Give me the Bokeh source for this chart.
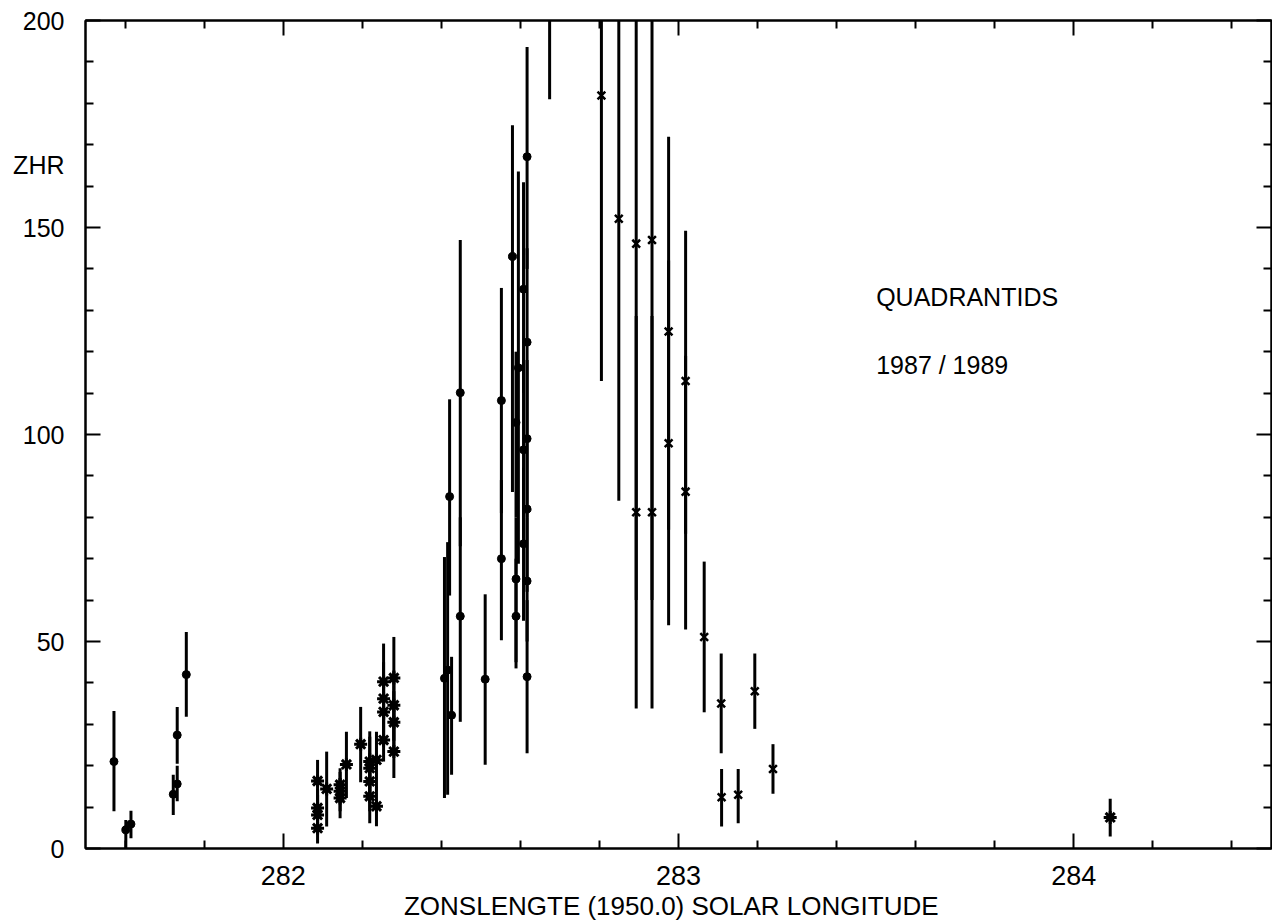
from bokeh.plotting import figure
from bokeh.models import Range1d, LinearAxis, FixedTicker, Label, ColumnDataSource
from bokeh.embed import file_html
from bokeh.resources import INLINE

FONT = "Liberation Sans"

# ---- data: solar longitude (1950.0), ZHR, lower / upper error ----
# filled dots
dot_x  = [281.572, 281.602, 281.615, 281.722, 281.732, 281.732, 281.755,
          282.408, 282.416, 282.421, 282.426, 282.448, 282.448, 282.511,
          282.552, 282.552, 282.580, 282.589, 282.589, 282.589, 282.595,
          282.608, 282.608, 282.608, 282.617, 282.617, 282.617, 282.617,
          282.617, 282.617, 282.674]
dot_y  = [21.0, 4.5, 5.9, 13.1, 27.4, 15.6, 42.0,
          41.1, 43.1, 85.0, 32.2, 110.1, 56.1, 40.9,
          108.2, 70.0, 143.0, 102.9, 65.1, 56.1, 116.1,
          135.1, 96.3, 73.6, 167.1, 122.3, 99.0, 82.0,
          64.6, 41.5, 215.0]
dot_lo = [9.0, 0.0, 2.5, 8.1, 20.5, 11.4, 31.8,
          12.2, 13.0, 61.1, 17.8, 73.0, 30.6, 20.2,
          81.0, 50.3, 86.1, 80.0, 45.0, 43.5, 68.8,
          110.0, 75.0, 55.0, 140.0, 100.0, 80.0, 62.0,
          50.0, 23.0, 181.0]
dot_hi = [33.2, 6.9, 9.1, 17.8, 34.2, 20.0, 52.3,
          70.4, 74.0, 108.5, 46.3, 147.0, 80.0, 61.4,
          135.4, 89.0, 174.7, 120.0, 80.0, 70.0, 163.5,
          160.9, 118.0, 92.0, 193.6, 145.0, 118.0, 100.0,
          80.0, 60.0, 250.0]

# asterisks
star_x  = [282.087, 282.087, 282.087, 282.087, 282.110,
           282.144, 282.144, 282.144, 282.160, 282.196,
           282.219, 282.219, 282.219, 282.219, 282.236, 282.236,
           282.254, 282.254, 282.254, 282.254,
           282.280, 282.280, 282.280, 282.280, 284.092]
star_y  = [16.3, 9.8, 8.1, 4.9, 14.4,
           15.4, 13.8, 12.2, 20.3, 25.2,
           21.0, 19.4, 16.2, 12.6, 21.4, 10.2,
           40.3, 36.2, 33.0, 26.2,
           41.2, 34.6, 30.5, 23.4, 7.5]
star_lo = [11.0, 5.0, 3.5, 1.2, 5.3,
           11.0, 9.0, 7.3, 12.2, 16.0,
           14.0, 12.0, 9.0, 6.1, 14.0, 5.4,
           31.0, 28.0, 25.0, 21.0,
           31.5, 26.0, 23.0, 17.0, 2.9]
star_hi = [21.4, 14.5, 13.0, 8.6, 23.4,
           19.4, 18.5, 17.0, 28.2, 34.2,
           28.3, 27.0, 23.0, 19.0, 28.2, 15.0,
           49.5, 45.0, 41.0, 32.0,
           51.1, 43.0, 38.0, 30.0, 12.0]

# crosses
cross_x  = [282.805, 282.849, 282.893, 282.893, 282.933, 282.933,
            282.975, 282.975, 283.018, 283.018, 283.065, 283.108,
            283.109, 283.151, 283.193, 283.239]
cross_y  = [181.9, 152.1, 146.1, 81.2, 147.0, 81.2,
            124.9, 97.9, 112.9, 86.2, 51.1, 35.0,
            12.4, 13.0, 38.0, 19.2]
cross_lo = [112.9, 84.0, 60.0, 33.8, 60.0, 33.8,
            77.0, 53.9, 76.0, 52.9, 32.9, 23.0,
            5.3, 6.1, 28.9, 13.2]
cross_hi = [250.0, 220.0, 232.0, 128.6, 234.0, 128.6,
            171.9, 142.0, 149.2, 119.0, 69.3, 47.1,
            19.2, 19.2, 47.1, 25.2]

x_major = [282, 283, 284]
x_minor = [281.6, 281.8, 282.2, 282.4, 282.6, 282.8, 283.2, 283.4,
           283.6, 283.8, 284.2, 284.4]
y_major = [0, 50, 100, 150, 200]
y_minor = [10, 20, 30, 40, 60, 70, 80, 90, 110, 120, 130, 140,
           160, 170, 180, 190]

x_title = "ZONSLENGTE  (1950.0)  SOLAR LONGITUDE"
y_title = "ZHR"
y_title_at = 165
note1 = "QUADRANTIDS"
note2 = "1987 / 1989"

# ---- figure ----
p = figure(width=1272, height=923,
           x_range=Range1d(281.5, 284.5), y_range=Range1d(0, 200),
           output_backend="svg", toolbar_location=None,
           min_border_left=85, min_border_right=1,
           min_border_top=20, min_border_bottom=73)
p.xgrid.visible = False
p.ygrid.visible = False
p.outline_line_color = "black"
p.outline_line_width = 2
p.background_fill_color = "white"
p.border_fill_color = "white"

def style_axis(ax, fs):
    ax.axis_line_width = 2
    ax.axis_line_color = "black"
    ax.major_tick_in = 15
    ax.major_tick_out = 0
    ax.minor_tick_in = 8
    ax.minor_tick_out = 0
    ax.major_tick_line_width = 2
    ax.minor_tick_line_width = 2
    ax.major_tick_line_color = "black"
    ax.minor_tick_line_color = "black"
    ax.major_label_text_font = FONT
    ax.major_label_text_color = "black"
    ax.major_label_text_font_size = fs

bx = p.xaxis[0]
bx.ticker = FixedTicker(ticks=x_major, minor_ticks=x_minor)
style_axis(bx, "27px")
bx.major_label_standoff = 17
bx.axis_label = x_title
bx.axis_label_text_font = FONT
bx.axis_label_text_font_size = "26px"
bx.axis_label_text_font_style = "normal"
bx.axis_label_text_color = "black"
bx.axis_label_standoff = 3

# inner left axis: tick marks only
ly = p.yaxis[0]
ly.ticker = FixedTicker(ticks=y_major, minor_ticks=y_minor)
style_axis(ly, "1px")
ly.major_label_overrides = {t: "" for t in y_major}
ly.major_label_standoff = 0

# outer left axis: labels only (tick values and the "ZHR" title)
lab_ticks = y_major + [y_title_at]
lab = LinearAxis(ticker=FixedTicker(ticks=lab_ticks, minor_ticks=[]))
style_axis(lab, "25px")
lab.axis_line_color = None
lab.major_tick_in = 0
lab.minor_tick_in = 0
lab.major_tick_line_color = None
lab.minor_tick_line_color = None
lab.major_label_standoff = 21
lab.major_label_overrides = {y_title_at: y_title}
p.add_layout(lab, "left")

top = LinearAxis(ticker=FixedTicker(ticks=x_major, minor_ticks=x_minor))
style_axis(top, "1px")
top.major_label_overrides = {t: "" for t in x_major}
top.major_label_standoff = 0
p.add_layout(top, "above")

right = LinearAxis(ticker=FixedTicker(ticks=y_major, minor_ticks=y_minor))
style_axis(right, "1px")
right.major_label_overrides = {t: "" for t in y_major}
right.major_label_standoff = 0
p.add_layout(right, "right")

# ---- error bars and markers ----
def series(xs, ys, lo, hi):
    return ColumnDataSource(dict(x=xs, y=ys, lo=lo, hi=hi))

sd = series(dot_x, dot_y, dot_lo, dot_hi)
ss = series(star_x, star_y, star_lo, star_hi)
sc = series(cross_x, cross_y, cross_lo, cross_hi)

for src in (sd, ss, sc):
    p.segment(x0="x", y0="lo", x1="x", y1="hi", source=src,
              line_color="black", line_width=3)

p.scatter("x", "y", source=sd, marker="circle", size=8,
          fill_color="black", line_color="black")
p.scatter("x", "y", source=ss, marker="circle", size=7,
          fill_color="black", line_color="black")
p.scatter("x", "y", source=ss, marker="asterisk", size=13,
          line_color="black", line_width=3)
p.scatter("x", "y", source=sc, marker="x", size=11,
          line_color="black", line_width=2.5)

# ---- texts inside the frame ----
p.add_layout(Label(x=283.5, y=133.3, text=note1, text_align="left",
                   text_baseline="alphabetic", text_font=FONT,
                   text_font_size="25px", text_color="black"))
p.add_layout(Label(x=283.5, y=116.7, text=note2, text_align="left",
                   text_baseline="alphabetic", text_font=FONT,
                   text_font_size="25px", text_color="black"))

open("out.html", "w").write(file_html(p, INLINE))
